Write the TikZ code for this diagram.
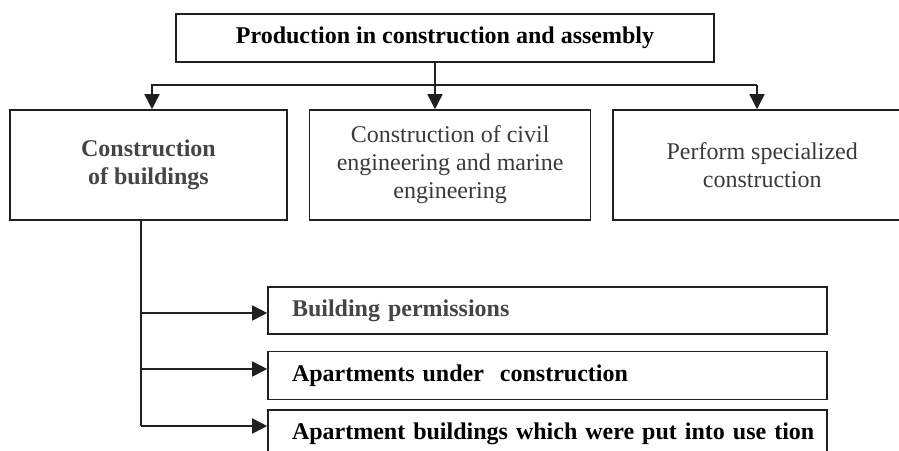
\documentclass[tikz,border=0pt]{standalone}
\usepackage{fontspec}
\setmainfont{Liberation Serif}
\usepackage{tikz}
\usetikzlibrary{positioning, calc, arrows.meta}
\definecolor{inkline}{HTML}{231F20}
\definecolor{boldgray}{HTML}{454545}
\definecolor{textgray}{HTML}{3A3A3A}
\tikzstyle{Arrow} = [
    line width = 1.6pt,
    draw = inkline,
    -{Triangle[length=15pt, width=15pt]}
]

\begin{document}
\begin{tikzpicture}[
x = 1pt, y = -1pt,
box/.style = {
    draw = inkline,
    line width = 1.6pt,
    inner sep = 0pt,
    align = center,
    font = \fontsize{24}{28}\selectfont
    },
listbox/.style = {
    box,
    minimum width = 559pt,
    text width = 511pt,
    align = left,
    font = \fontsize{24}{28}\selectfont\bfseries
    }
]
\useasboundingbox (0,0) rectangle (899,450);

\node [box, minimum width = 538pt, minimum height = 48pt,
    font = \fontsize{24}{28}\selectfont\bfseries] (top) at (445,38)
    {Production in construction and assembly};

\node [box, minimum width = 277pt, minimum height = 110pt,
    text = boldgray, font = \fontsize{24}{28}\selectfont\bfseries] (b1) at (148.5,165)
    {Construction\\of buildings};
\node [box, minimum width = 281pt, minimum height = 110pt,
    text = textgray, right = 21pt of b1] (b2)
    {Construction of civil\\engineering and marine\\engineering};
\node [box, minimum width = 298pt, minimum height = 110pt,
    text = textgray, right = 21pt of b2] (b3)
    {Perform specialized\\construction};

\node [listbox, minimum height = 47pt, text = boldgray] (c1) at (547.5,310.5)
    {Building permissions};
\node [listbox, minimum height = 48pt, below = 16pt of c1] (c2)
    {Apartments under\ \ construction};
\node [listbox, minimum height = 48pt, below = 9pt of c2] (c3)
    {\mbox{Apartment buildings which were put into use tion}};

% top to the three groups
\coordinate (busW) at (152,85);
\coordinate (busM) at (435,85);
\coordinate (busE) at (757,85);
\draw[Arrow] (top.south -| busM) -- (busM |- b2.north);
\draw[Arrow] (busE) -- (busW) -- (busW |- b1.north);
\draw[Arrow] (busE) -- (busE |- b3.north);

% buildings to the indicators
\coordinate (trunk) at (141,220);
\draw[line width = 1.6pt, draw = inkline] (b1.south -| trunk) -- (trunk |- 0,426);
\draw[Arrow] (trunk |- 0,313) -- (c1.west |- 0,313);
\draw[Arrow] (trunk |- 0,369) -- (c2.west |- 0,369);
\draw[Arrow] (trunk |- 0,426) -- (c3.west |- 0,426);

\end{tikzpicture}
\end{document}
